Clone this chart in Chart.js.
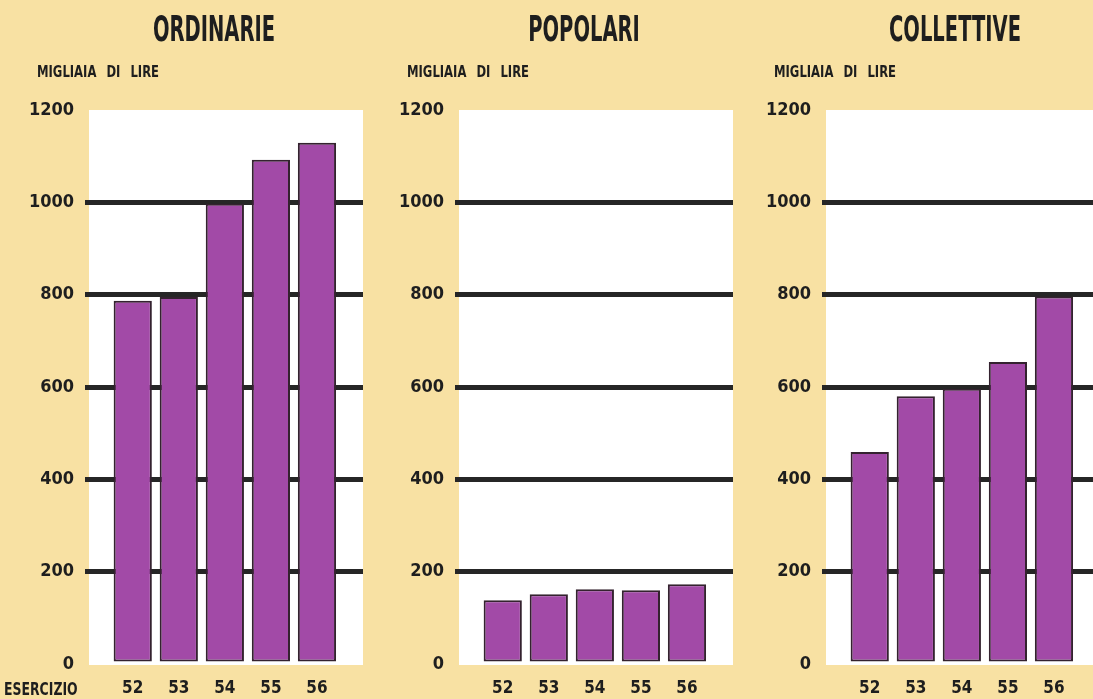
<!DOCTYPE html>
<html>
<head>
<meta charset="utf-8">
<script src="https://cdn.jsdelivr.net/npm/chart.js@4.4.1/dist/chart.umd.min.js"></script>
<style>
  html, body { margin: 0; padding: 0; width: 1093px; height: 699px; overflow: hidden; background: #f8e1a3; }
  .panel { position: absolute; top: 0; width: 370px; height: 699px; }
  .panel canvas { position: absolute; left: 0; top: 0; }
  .title {
    position: absolute; top: 12px; left: 114px; width: 200px; text-align: center;
    font: bold 35px 'DejaVu Sans Condensed', sans-serif;
    color: #1e1e1e; transform: scaleX(0.62); transform-origin: center; line-height: 1;
  }
  .unit {
    position: absolute; top: 65px; left: 37px; white-space: nowrap;
    font: bold 15px 'DejaVu Sans Condensed', sans-serif;
    color: #1e1e1e; transform: scaleX(0.86); transform-origin: left; word-spacing: 7px; line-height: 1;
  }
  .esercizio {
    position: absolute; top: 680px; left: 4px; white-space: nowrap;
    font: bold 18px 'DejaVu Sans Condensed', sans-serif;
    color: #1e1e1e; transform: scaleX(0.77); transform-origin: left; line-height: 1;
  }
</style>
</head>
<body>
<div class="panel" style="left:0px"><canvas id="c0" width="370" height="699"></canvas><div class="title">ORDINARIE</div><div class="unit">MIGLIAIA DI LIRE</div><div class="esercizio">ESERCIZIO</div></div>
<div class="panel" style="left:370px"><canvas id="c1" width="370" height="699"></canvas><div class="title">POPOLARI</div><div class="unit">MIGLIAIA DI LIRE</div></div>
<div class="panel" style="left:737px"><canvas id="c2" width="370" height="699"></canvas><div class="title">COLLETTIVE</div><div class="unit">MIGLIAIA DI LIRE</div></div>
<script>
// data (migliaia di lire)
const years = [52, 53, 54, 55, 56];
const ordinarie = [787, 795, 997, 1092, 1129];
const popolari = [138, 151, 162, 160, 173];
const collettive = [459, 580, 596, 654, 796];
const yTicks = [0, 200, 400, 600, 800, 1000, 1200];

const FONT = "'DejaVu Sans Condensed', sans-serif";

// white plot area behind the grid
const whiteArea = {
    id: 'whiteArea',
    beforeDraw(chart) {
        const { ctx, chartArea: a } = chart;
        ctx.save();
        ctx.fillStyle = '#ffffff';
        ctx.fillRect(a.left, a.top, a.right - a.left, a.bottom - a.top + 1);
        ctx.restore();
    }
};

function makeChart(id, values) {
    new Chart(document.getElementById(id), {
        type: 'bar',
        data: {
            datasets: [{
                data: years.map((x, i) => ({ x: x, y: values[i] })),
                backgroundColor: '#a24aa7',
                borderColor: '#34222f',
                borderWidth: 2,
                borderSkipped: false,
                barPercentage: 0.83,
                categoryPercentage: 1
            }]
        },
        options: {
            responsive: false,
            animation: false,
            devicePixelRatio: 1,
            layout: { padding: { top: 110, right: 7, left: 0, bottom: 0 } },
            plugins: { legend: { display: false }, tooltip: { enabled: false } },
            scales: {
                x: {
                    type: 'linear',
                    offset: false,
                    min: 51.05,
                    max: 57,
                    afterBuildTicks: s => { s.ticks = years.map(v => ({ value: v })); },
                    afterFit: s => { s.height = 35; },
                    ticks: {
                        callback: v => String(v),
                        color: '#1e1e1e',
                        font: { family: FONT, size: 17, weight: 'bold' },
                        padding: 14,
                        maxRotation: 0
                    },
                    grid: { display: false, drawTicks: false, offset: false },
                    border: { display: false }
                },
                y: {
                    min: 0,
                    max: 1200,
                    afterBuildTicks: s => { s.ticks = yTicks.map(v => ({ value: v })); },
                    afterFit: s => { s.width = 89; },
                    ticks: {
                        callback: v => String(v),
                        color: '#1e1e1e',
                        font: { family: FONT, size: 18, weight: 'bold' },
                        padding: 11
                    },
                    grid: {
                        color: c => (c.tick && (c.tick.value === 0 || c.tick.value === 1200)) ? 'rgba(0,0,0,0)' : '#262626',
                        lineWidth: 5,
                        tickLength: 4,
                        drawTicks: true
                    },
                    border: { display: false }
                }
            }
        },
        plugins: [whiteArea]
    });
}

makeChart('c0', ordinarie);
makeChart('c1', popolari);
makeChart('c2', collettive);
</script>
</body>
</html>
